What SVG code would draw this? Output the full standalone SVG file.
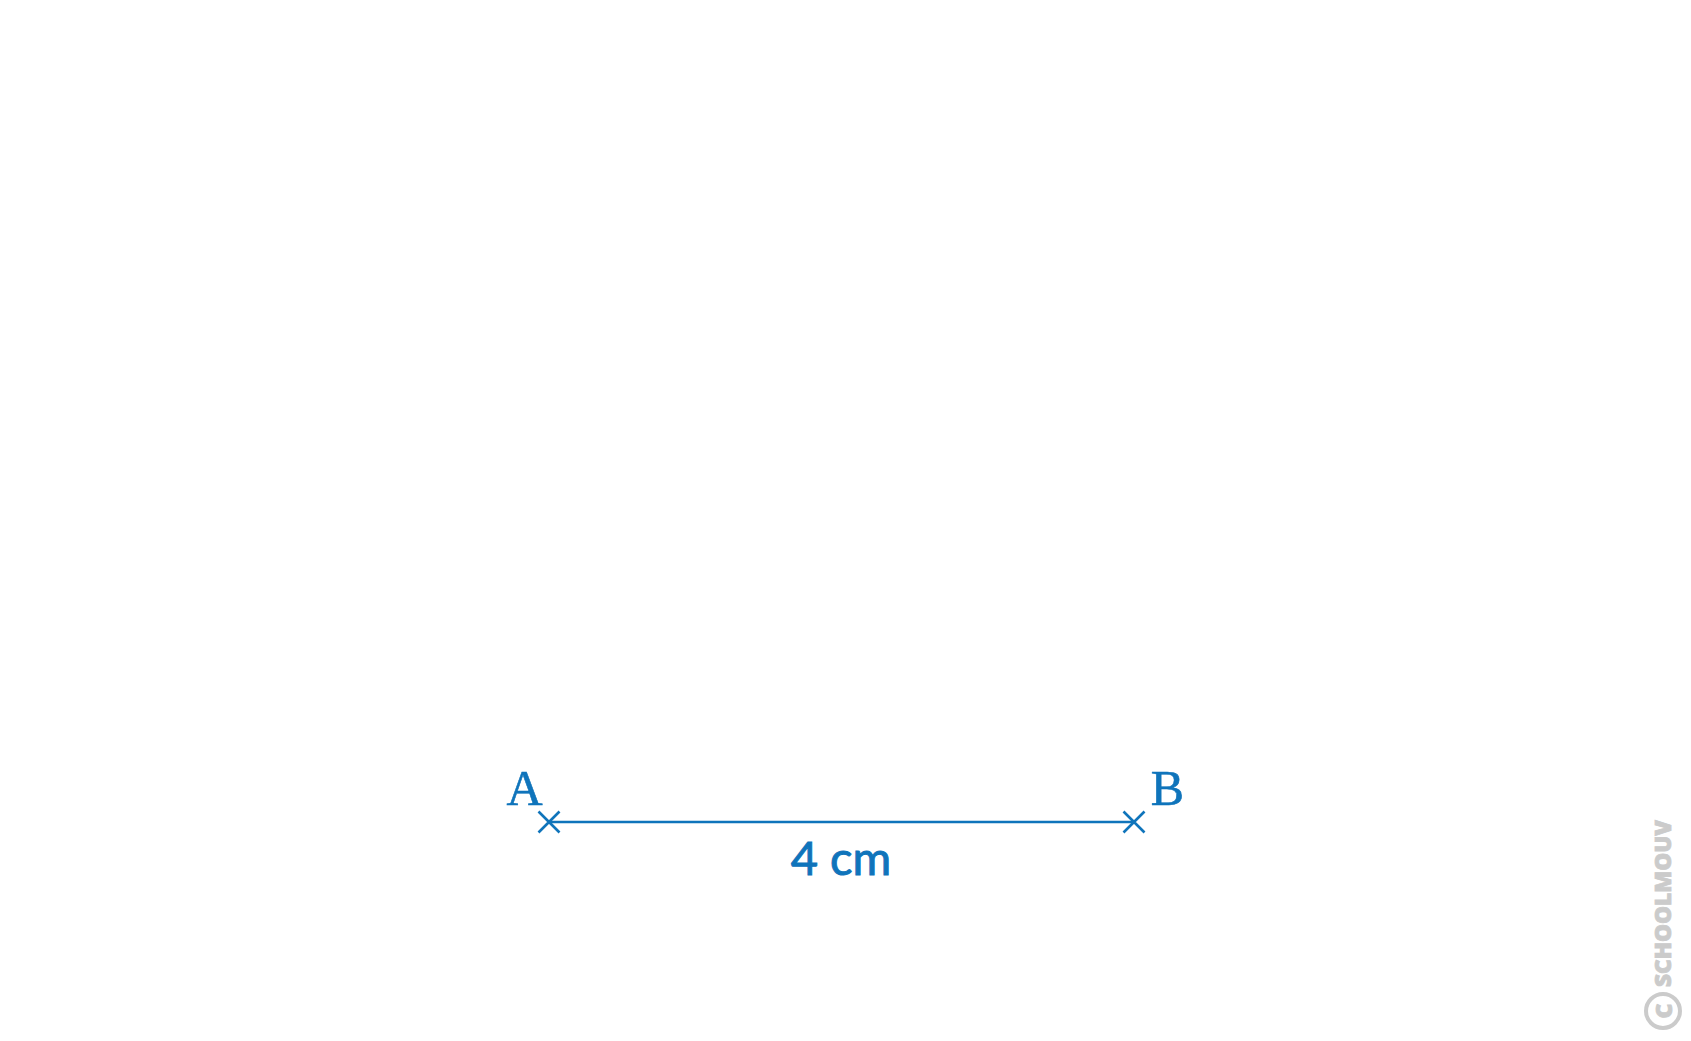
<svg xmlns="http://www.w3.org/2000/svg" width="1691" height="1041" viewBox="0 0 1691 1041">
<style>
.blue{stroke:#0f74bb;stroke-width:2.6;fill:none}
.lbl{font-family:"Liberation Serif",serif;font-size:50px;fill:#0f74bb;stroke:#0f74bb;stroke-width:0.6}
.len{font-family:Lato,"Open Sans",sans-serif;font-size:47px;fill:#0f74bb;stroke:#0f74bb;stroke-width:1}
.wm{font-family:"Open Sans","Liberation Sans",sans-serif;font-weight:800;font-size:23px;fill:#cbcbcb;stroke:#cbcbcb;stroke-width:0.8}
</style>
<rect width="1691" height="1041" fill="#fff"/>
<g id="connectors">
<line class="blue" x1="549" y1="822" x2="1134" y2="822"/>
</g>
<g id="A">
<path class="blue" d="M538.5 811.5 L559.5 832.5 M538.5 832.5 L559.5 811.5"/>
<text class="lbl" x="524.5" y="805" text-anchor="middle">A</text>
</g>
<g id="B">
<path class="blue" d="M1123.5 811.5 L1144.5 832.5 M1123.5 832.5 L1144.5 811.5"/>
<text class="lbl" x="1167.5" y="805" text-anchor="middle">B</text>
</g>
<g id="length">
<text class="len" x="841" y="875" text-anchor="middle">4 cm</text>
</g>
<g id="watermark">
<text class="wm" transform="translate(1671,987) rotate(-90)" textLength="167" lengthAdjust="spacingAndGlyphs">SCHOOLMOUV</text>
<circle cx="1663" cy="1011" r="17" fill="none" stroke="#cbcbcb" stroke-width="4"/>
<text class="wm" transform="translate(1672,1011) rotate(-90)" text-anchor="middle" font-size="26">C</text>
</g>
</svg>
